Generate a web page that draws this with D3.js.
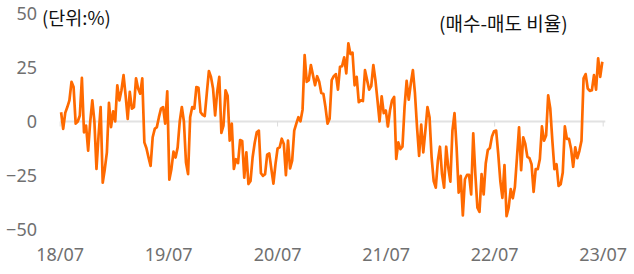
<!DOCTYPE html>
<meta charset="utf-8">
<body style="margin:0;background:#fff">
<script src="https://cdn.jsdelivr.net/npm/d3@7"></script>
<svg id="chart" width="634" height="274"></svg>
<script>
// weekly buy-minus-sell ratio
var startDate = "2018-07-04"
var values = [
 4.3, -3.4, 4, 6.7, 9.8, 18.4, 16, -1, 0, 2.8, 20.2, -5, -1.9, -13.5, 0, 9.8, 0, -22, -6.5, 6.7,
 -28.4, -22, -14.3, 8.7, -2.6, 4.7, 0, 16.8, 9.8, 14.5, 21.5, 12, 1.2, 13.7, 6, 6.7, 20, 15.3, 12.9, 20,
 -9.7, -12.4, -16.7, -20.6, -7.3, -3.4, -2.6, 2, 6, 6.7, -1, 14, -27, -22, -14, -16.7, -12, 0, 6.7, 0,
 -19, -24.4, 2, 6.7, 6, 16, 15.6, 4.3, 3.1, 2.5, 13, 23.4, 20.7, 15.3, 2.8, 13.7, 20.7, -5.3, -1.9, 14.5,
 12, -8.9, -1, -22, -17.5, -19.3, -8.6, -9, -26, -14.3, -29, -27.6, -16.7, -10, -5, -4.2, -24, -25.2, -24.4, -15.4,
 -14.8, -22, -28.8, -19.8, -12.5, -12, -8, -10.4, -24.9, -8.9, -21.8, -18.2, -4.2, -1, 2, 0.1, 5.5, 30.8, 18.4, 19.2,
 26.2, 21.5, 16.8, 21, 18.4, 13.2, 12.9, 6.7, -1, 1.3, 19.2, 21, 22, 14.8, 25.4, 25.7, 29.8, 22.3, 36.3, 31.3,
 31.9, 16.8, 20.7, 9, 9.8, 9.5, 23.8, 19.2, 14.8, 16.4, 26.2, 19.2, 9.8, 0, 11.7, 3.9, 5.1, -2.3, 5.1, 9.8,
 11.4, -17.4, -9.7, -12.8, -11.7, 6.7, 18.8, 10.1, 17.6, 23.8, 13, -2.7, -15.9, -1.4, -14.3, -4.2, 6.7, 2, -16.7, -27.6,
 -30.7, -18.2, -11.7, -24.4, -30.7, -11.7, -21.4, -27.9, -4.2, 3.9, -12, -33, -25.2, -43.6, -26.8, -24.8, -24.8, -33.8, -5.5, -24.4,
 -40, -41.9, -24.4, -33.8, -19.5, -13.2, -12.3, -7, -4.5, -4.2, -15, -27.6, -35.4, -20.2, -43.9, -40, -31.4, -35.6, -30.4, -16.7,
 -2.7, -22.6, -7.3, -10.4, -16.4, -17, -19.8, -32.6, -22.1, -22.1, -17.4, -2.3, -8.9, -6.5, 12.1, 6, -8.9, -22.1, -19.8, -29.9,
 -29.1, -23.7, -2.3, -8.1, -8.1, -12.8, -21, -12, -17, -13.6, -8.9, 20, 22, 15.3, 14.2, 14.5, 21.5, 14.8, 29.3, 20.7,
 27.7
]
var xTicks = ["2018-07-01", "2019-07-01", "2020-07-01", "2021-07-01", "2022-07-01", "2023-07-01"]
var xTickLabels = ["18/07", "19/07", "20/07", "21/07", "22/07", "23/07"]
var yTicks = [50, 25, 0, -25, -50]

var parse = d3.timeParse("%Y-%m-%d")
var t0 = parse(startDate)
var data = values.map(function(v, i){ return {date: d3.timeDay.offset(t0, i * 7), value: v} })

var svg = d3.select("#chart")

var x = d3.scaleTime()
    .domain([parse(xTicks[0]), parse(xTicks[xTicks.length - 1])])
    .range([60.2, 603.2])
var y = d3.scaleLinear().domain([-50, 50]).range([229.3, 13.7])

// zero line + little tick marks
var xEnd = d3.extent(data, function(d){ return d.date })
svg.append("line")
    .attr("x1", x(xEnd[0]) - 1).attr("x2", x(xEnd[1]) + 3)
    .attr("y1", y(0)).attr("y2", y(0))
    .attr("stroke", "#e2e2e2").attr("stroke-width", 2)

svg.selectAll(".xt").data(xTicks).enter().append("line")
    .attr("class", "xt")
    .attr("x1", function(d){ return x(parse(d)) })
    .attr("x2", function(d){ return x(parse(d)) })
    .attr("y1", y(0)).attr("y2", y(0) + 5)
    .attr("stroke", "#dcdcdc").attr("stroke-width", 1)

// y labels
svg.selectAll(".yl").data(yTicks).enter().append("text")
    .attr("class", "yl")
    .attr("x", 37)
    .attr("y", function(d){ return y(d) })
    .attr("dy", "0.36em")
    .attr("text-anchor", "end")
    .attr("font-family", "Noto Sans, sans-serif")
    .attr("font-size", 18)
    .attr("fill", "#707070")
    .text(function(d){ return d < 0 ? "\u2212" + Math.abs(d) : d })

// x labels
svg.selectAll(".xl").data(xTicks).enter().append("text")
    .attr("class", "xl")
    .attr("x", function(d){ return x(parse(d)) })
    .attr("y", 260.5)
    .attr("text-anchor", "middle")
    .attr("font-family", "Noto Sans, sans-serif")
    .attr("font-size", 18)
    .attr("fill", "#707070")
    .text(function(d, i){ return xTickLabels[i] })

// titles
svg.append("text")
    .attr("x", 42).attr("y", 25)
    .attr("font-family", "Noto Sans CJK KR, sans-serif")
    .attr("font-size", 18.5)
    .attr("fill", "#111")
    .text("(단위:%)")

svg.append("text")
    .attr("x", 439).attr("y", 31)
    .attr("font-family", "Noto Sans CJK KR, sans-serif")
    .attr("font-size", 19)
    .attr("fill", "#111")
    .text("(매수-매도 비율)")

var line = d3.line()
    .x(function(d){ return x(d.date) })
    .y(function(d){ return y(d.value) })

svg.append("path")
    .datum(data)
    .attr("d", line)
    .attr("fill", "none")
    .attr("stroke", "#ff6a00")
    .attr("stroke-width", 2.7)
    .attr("stroke-linejoin", "round")
</script>
</body>
